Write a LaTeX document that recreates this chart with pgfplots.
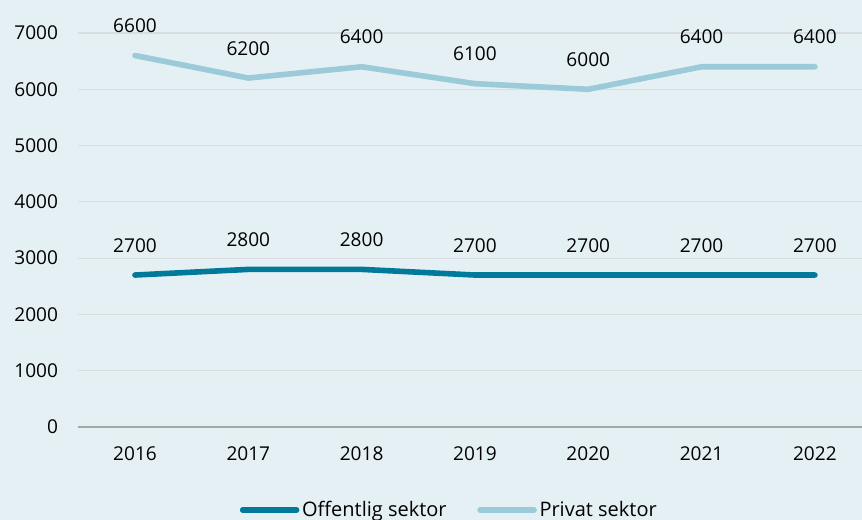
\documentclass[border=0pt]{standalone}
\usepackage{fontspec}
\setmainfont{Open Sans}
\usepackage{pgfplots}
\pgfplotsset{compat=1.18}
\definecolor{bg}{HTML}{E5F0F5}
\definecolor{dark}{HTML}{00799A}
\definecolor{light}{HTML}{9BCBD9}
\definecolor{gridc}{HTML}{D7DDE0}
\definecolor{zeroc}{HTML}{A3A7AA}
\begin{document}
\begin{tikzpicture}[font=\fontsize{14.3}{17}\selectfont]
\fill[bg] (0,0) rectangle (646.5pt,390pt);
\path[use as bounding box] (0,0) rectangle (646.5pt,390pt);
\begin{axis}[
  at={(58.5pt,69.75pt)}, anchor=south west,
  scale only axis, width=588pt, height=295.5pt,
  xmin=-0.503, xmax=6.416, ymin=0, ymax=7000,
  axis line style={draw=none},
  xtick={0,...,6}, xticklabels={2016,2017,2018,2019,2020,2021,2022},
  ytick={0,1000,...,7000},
  ymajorgrids, major grid style={gridc, line width=0.8pt},
  major tick length=0pt,
  /pgf/number format/.cd, 1000 sep={}, assume math mode=true, /pgfplots/.cd,
  yticklabel style={xshift=-11.5pt},
  xticklabel style={yshift=-11pt},
  clip=false,
  nodes near coords,
  nodes near coords style={anchor=base, yshift=17.25pt, font=\fontsize{14.3}{17}\selectfont, text=black},
  legend columns=2,
  legend style={at={(0.474,-0.2107)}, anchor=center, draw=none, fill=none,
    font=\fontsize{15}{18}\selectfont,
    /tikz/every even column/.append style={column sep=21pt},
    nodes={inner sep=2pt}},
  legend image code/.code={\draw[#1, line width=4.2pt, line cap=round] (0pt,0pt) -- (40.5pt,0pt);},
]
\draw[zeroc, line width=0.9pt] (axis cs:-0.503,0) -- (axis cs:6.416,0);
\addplot[dark, line width=4.2pt, line cap=round, line join=round] coordinates {
(0,2700) (1,2800) (2,2800) (3,2700) (4,2700) (5,2700) (6,2700)};
\addlegendentry{Offentlig sektor}
\addplot[light, line width=4.2pt, line cap=round, line join=round] coordinates {
(0,6600) (1,6200) (2,6400) (3,6100) (4,6000) (5,6400) (6,6400)};
\addlegendentry{Privat sektor}
\end{axis}
\end{tikzpicture}
\end{document}
